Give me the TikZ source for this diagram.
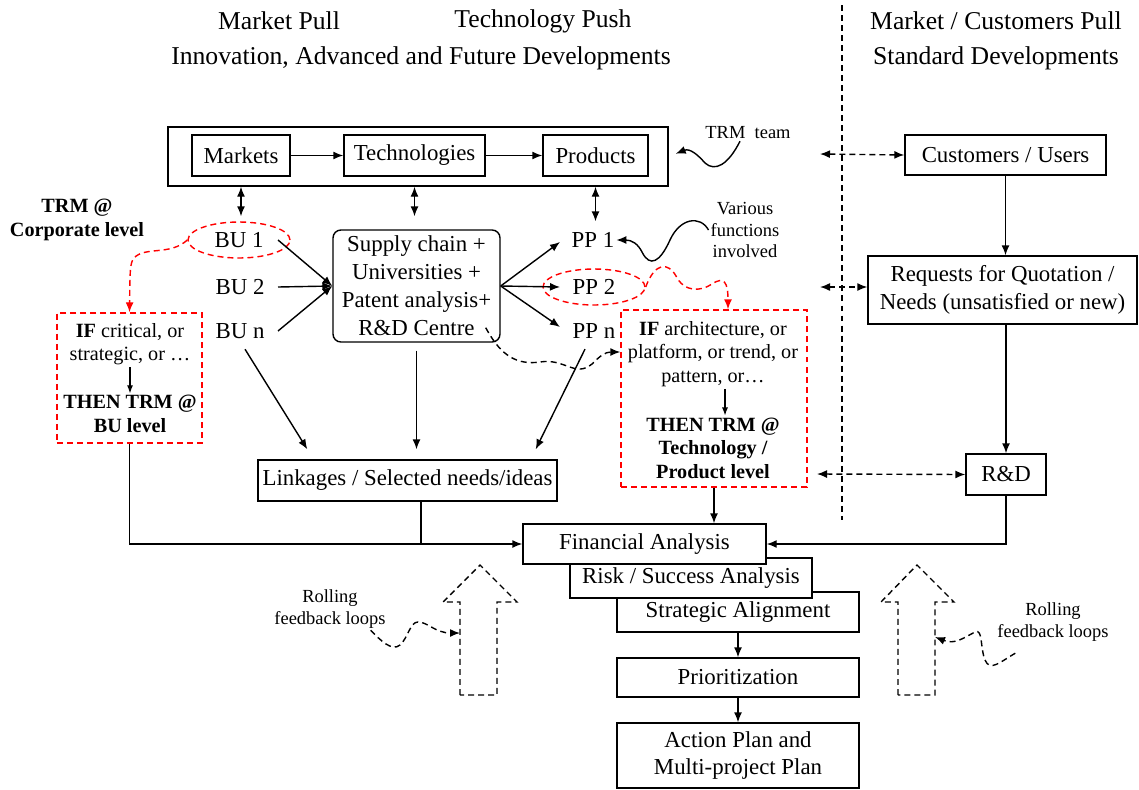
\documentclass[tikz,border=0pt]{standalone}
\usepackage{fontspec}
\setmainfont{Liberation Serif}
\usetikzlibrary{arrows.meta,shapes.geometric}

\tikzset{
  box/.style={draw, line width=0.8pt, fill=white, align=center, inner sep=0pt,
    font=\fontsize{13}{15.6}\selectfont},
  plain/.style={align=center, inner sep=1pt, font=\fontsize{13}{15.6}\selectfont},
  redoval/.style={ellipse, draw=red, dashline, line width=0.8pt, inner sep=0pt,
    minimum width=20.4mm, minimum height=7.2mm, font=\fontsize{13}{15.6}\selectfont},
  redbox/.style={draw=red, dashline, line width=0.8pt},
  rednote/.style={align=center, inner sep=1pt, font=\fontsize{11.5}{13.4}\selectfont},
  boldnote/.style={align=center, inner sep=1pt, font=\bfseries\fontsize{11.5}{13.4}\selectfont},
  note/.style={align=center, inner sep=1pt, font=\fontsize{10.5}{12.2}\selectfont},
  title/.style={font=\fontsize{14.6}{17}\selectfont},
  dashline/.style={dash pattern=on 3.4pt off 2.3pt},
  arr/.style={-{Latex[length=2mm,width=1.6mm]}, line width=0.8pt},
  arrsmall/.style={-{Latex[length=1.6mm,width=1.2mm]}, line width=0.6pt},
  dblarr/.style={{Latex[length=2mm,width=1.6mm]}-{Latex[length=2mm,width=1.6mm]}, line width=0.8pt},
}

\begin{document}
\begin{tikzpicture}[x=0.2mm, y=-0.2mm]
    % Page size
    \useasboundingbox (0,0) rectangle (1139,789);

    % Headings
    \node[title] (mpull) at (279,21) {Market Pull};
    \node[title] (tpush) at (543,21) {Technology Push};
    \node[title] (innov) at (421,58) {Innovation, Advanced and Future Developments};
    \node[title] (cpull) at (996,21) {Market / Customers Pull};
    \node[title] (stdev) at (996,58) {Standard Developments};

    % Separator between the two halves
    \coordinate (septop) at (842,5);
    \coordinate (sepbot) at (842,520);
    \draw[dashline, line width=0.7pt] (septop) -- (sepbot);

    % TRM team box
    \node[box, minimum width=100mm, minimum height=11.8mm] (trm) at (418,156.5) {};
    \node[box, minimum width=19.6mm, minimum height=8.2mm] (markets) at (241,155.5) {Markets};
    \node[box, minimum width=28.2mm, minimum height=8.2mm] (techs) at (414.5,155.5) {Technologies};
    \node[box, minimum width=21mm, minimum height=8.2mm] (products) at (595.5,155.5) {Products};
    \draw[arr] (markets) -- (techs);
    \draw[arr] (techs) -- (products);
    \node[note] (trmteam) at (748,133) {TRM\ \ team};
    \draw[arr, shorten >=1.5mm] ([xshift=-1.6mm]trmteam.south) .. controls (728,165) and (715,172) .. (705,163)
        .. controls (698,155) and (690,148) .. (trm.east);

    % Business units
    \node[redoval] (bu1) at (239,240) {BU 1};
    \node[plain] (bu2) at (240,287) {BU 2};
    \node[plain] (bun) at (240,331) {BU n};
    \node[boldnote] (corp) at (77,220) {TRM @\\Corporate level};

    % Supply chain box
    \node[box, rounded corners=4.5pt, minimum width=33.4mm, minimum height=22.4mm,
        font=\fontsize{13}{16}\selectfont] (supply) at (416.5,286)
        {Supply chain +\\Universities +\\Patent analysis+\\R\&D Centre};

    % Product platforms
    \node[plain] (pp1) at (593,240) {PP 1};
    \node[redoval] (pp2) at (594,287) {PP 2};
    \node[plain] (ppn) at (594,331) {PP n};
    \node[note] (various) at (745,230) {Various\\functions\\involved};
    \draw[arr] (various.west) .. controls (700,215) and (680,218) .. (670,240)
        .. controls (660,262) and (650,268) .. (642,252)
        .. controls (638,244) and (632,240) .. (pp1.east);

    % Links to the TRM team box
    \draw[dblarr, shorten >=1mm] (trm.south -| markets) -- (markets |- bu1.north);
    \draw[dblarr, shorten >=2.6mm] (trm.south -| techs) -- (techs |- supply.north);
    \draw[dblarr, shorten >=1.8mm] (trm.south -| products) -- (products |- pp1.north);

    % BU and PP arrows
    \draw[arr] ([xshift=7.8mm]bu1.center) -- (supply.west);
    \draw[arr] ([xshift=7.6mm]bu2.center) -- (supply.west);
    \draw[arr] ([xshift=7.6mm]bun.center) -- (supply.west);
    \draw[arr] (supply.east) -- ([xshift=-6.6mm,yshift=-0.4mm]pp1.center);
    \draw[arr] (supply.east) -- ([xshift=-6.8mm]pp2.center);
    \draw[arr] (supply.east) -- ([xshift=-6.8mm,yshift=0.8mm]ppn.center);

    % TRM at BU level
    \node[redbox, minimum width=29mm, minimum height=26mm] (ifbu) at (129.5,378) {};
    \node[rednote] (ifbutxt) at (130,344) {\textbf{IF} critical, or\\strategic, or …};
    \node[boldnote] (thenbu) at (130,414) {THEN TRM @\\BU level};
    \draw[arrsmall] (ifbutxt) -- (thenbu);
    \draw[red, dashline, arr] (bu1.west) .. controls (170,256) and (145,246) .. (134,258)
        .. controls (130,263) and (130,270) .. (ifbu.north);

    % TRM at technology / product level
    \node[redbox, minimum width=37.2mm, minimum height=35.4mm] (ifpp) at (714,398.5) {};
    \node[rednote] (ifpptxt) at (713,354) {\textbf{IF} architecture, or\\platform, or trend, or\\pattern, or…};
    \node[boldnote] (thenpp) at (713,448) {THEN TRM @\\Technology /\\Product level};
    \draw[arrsmall] ([xshift=2.4mm]ifpptxt.south) -- ([xshift=2.4mm]thenpp.north);
    \draw[red, dashline, arr] (pp2.east) .. controls (655,262) and (668,262) .. (676,276)
        .. controls (684,292) and (700,292) .. (712,284)
        .. controls (724,276) and (728,282) .. ([xshift=2.8mm]ifpp.north);
    \draw[dashline, arr] ([xshift=-3mm,yshift=3mm]supply.south east) .. controls (498,350) and (512,366) .. (540,362)
        .. controls (565,358) and (575,378) .. (592,364)
        .. controls (600,356) and (605,352) .. ([yshift=9.3mm]ifpp.west);

    % Linkages
    \node[box, minimum width=59.8mm, minimum height=8.2mm] (linkages) at (407.5,480.5) {Linkages / Selected needs/ideas};
    \draw[arr] ([xshift=1mm,yshift=-1.7mm]bun.south) -- ([xshift=10mm,yshift=2mm]linkages.north west);
    \draw[arr, shorten <=1.6mm, shorten >=2mm] (supply.south) -- (supply.south |- linkages.north);
    \draw[arr] ([xshift=-1.8mm,yshift=-1.7mm]ppn.south) -- ([xshift=-4.4mm,yshift=2mm]linkages.north east);

    % Analysis steps (drawn back to front)
    \node[box, minimum width=48.4mm, minimum height=8mm] (strat) at (738,612) {Strategic Alignment};
    \node[box, minimum width=48.4mm, minimum height=8mm] (risk) at (691,578) {Risk / Success Analysis};
    \node[box, minimum width=48.6mm, minimum height=8mm] (fin) at (644.5,544) {Financial Analysis};
    \node[box, minimum width=48.4mm, minimum height=7.8mm] (prior) at (738,677.5) {Prioritization};
    \node[box, minimum width=48.4mm, minimum height=13mm] (action) at (738,755.5) {Action Plan and\\Multi-project Plan};
    \draw[arr] (strat) -- (prior);
    \draw[arr] (prior) -- (action);

    % Feeds into the financial analysis
    \coordinate (lk) at ([xshift=2.7mm]linkages.south);
    \draw[arr] (ifbu.south) |- (fin.west);
    \draw[line width=0.8pt] (lk) -- (lk |- fin.west);
    \draw[arr] (ifpp.south) -- (ifpp.south |- fin.north);

    % Standard developments
    \node[box, minimum width=40.2mm, minimum height=8mm] (cust) at (1005.5,155) {Customers / Users};
    \node[box, minimum width=53.8mm, minimum height=13.6mm] (rfq) at (1002.5,290)
        {Requests for Quotation /\\Needs (unsatisfied or new)};
    \node[box, minimum width=16mm, minimum height=8.2mm] (rd) at (1006,474.5) {R\&D};
    \draw[arr] (cust.south) -- (cust.south |- rfq.north);
    \draw[arr] (rfq.south -| rd) -- (rd.north);
    \draw[arr] (rd.south) |- (fin.east);

    % Links across the separator
    \coordinate (d1) at (820,154);
    \coordinate (d2) at (820,287);
    \coordinate (d3) at (817,474);
    \draw[dblarr, dashline] (d1) -- (cust.west);
    \draw[dblarr, dashline] (d2) -- (rfq.west |- d2);
    \draw[dblarr, dashline] (d3) -- (rd.west);

    % Rolling feedback loops
    \draw[dashline, line width=0.8pt] (460,695) -- (460,602) -- (443,602) -- (480,565) -- (517,602) -- (497,602) -- (497,695) -- cycle;
    \draw[dashline, line width=0.8pt] (898,695) -- (898,602) -- (881,602) -- (917,565) -- (954,602) -- (935,602) -- (935,695) -- cycle;
    \node[note] (roll1) at (330,609) {Rolling\\feedback loops};
    \node[note] (roll2) at (1053,622) {Rolling\\feedback loops};
    \coordinate (lshaft) at (460,633);
    \coordinate (rshaft) at (935,637);
    \draw[dashline, arr] ([xshift=-3.4mm]roll1.south east) .. controls (380,640) and (392,652) .. (400,645)
        .. controls (408,638) and (410,622) .. (418,622)
        .. controls (428,622) and (435,633) .. (lshaft);
    \draw[dashline, arr] ([xshift=4mm,yshift=-2mm]roll2.south west) .. controls (1000,662) and (990,672) .. (985,660)
        .. controls (980,648) and (983,628) .. (975,632)
        .. controls (965,637) and (955,645) .. (rshaft);
\end{tikzpicture}
\end{document}
